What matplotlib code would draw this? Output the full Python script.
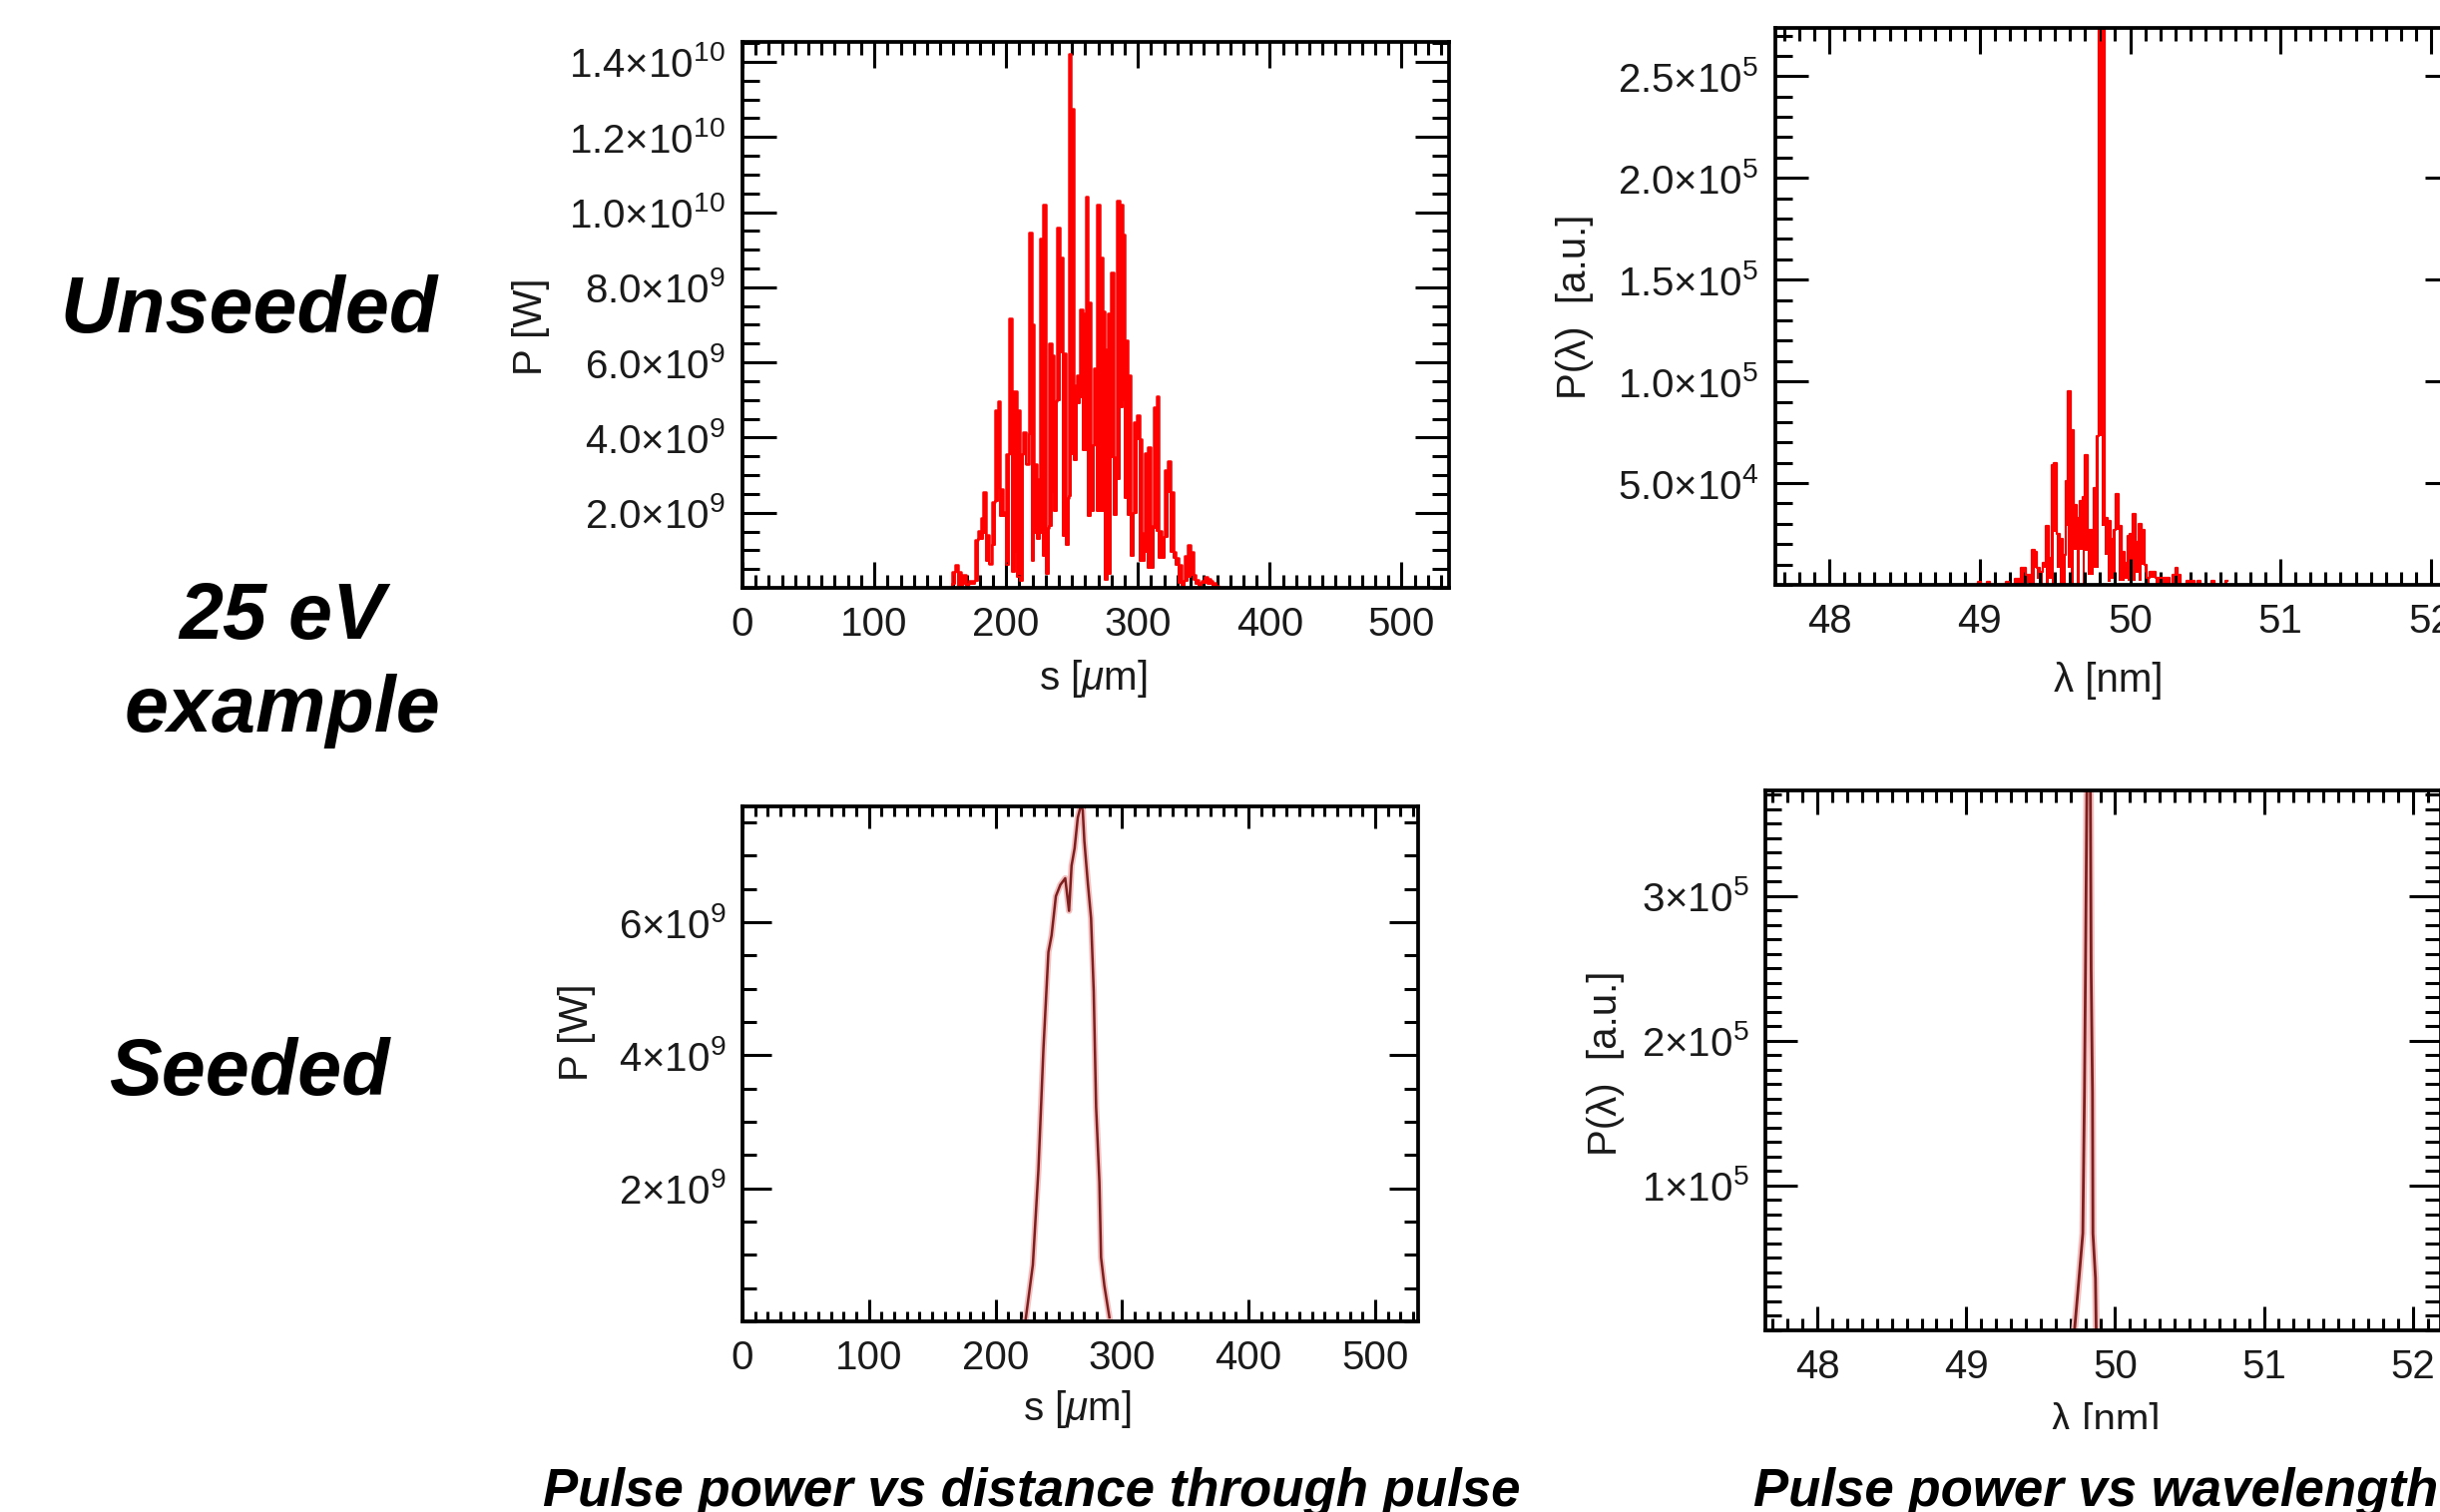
"""
FEL pulse comparison, unseeded vs seeded (25 eV example).
Four IDL-style panels: power vs s and spectrum vs wavelength.
"""
import numpy as np
import matplotlib.pyplot as plt
from matplotlib.ticker import MultipleLocator
from matplotlib.patches import Rectangle

plt.rcParams['font.family'] = ['Liberation Sans', 'DejaVu Sans']
plt.rcParams['mathtext.fontset'] = 'custom'
plt.rcParams['mathtext.rm'] = 'Liberation Sans'
plt.rcParams['mathtext.it'] = 'Liberation Sans:italic'
plt.rcParams['mathtext.bf'] = 'Liberation Sans:bold'

# --- Data ---
# unseeded power profile: bins of ds_um from s0_um, top / bottom of the spiky band, units 1e9 W
s0_um = 158.0
ds_um = 2.15
p_unseed_top = [0.0, 0.43, 0.62, 0.43, 0.28, 0.35, 0.10, 0.19, 0.19, 1.28,
                1.52, 1.87, 2.56, 1.42, 0.64, 2.28, 4.73, 4.97, 2.63, 2.02,
                3.56, 7.17, 5.24, 5.24, 4.73, 3.56, 4.15, 3.30, 9.45, 7.00,
                3.30, 2.90, 9.29, 10.20, 1.60, 6.50, 6.20, 4.97, 9.60, 8.80,
                6.25, 2.40, 14.20, 12.75, 5.40, 5.65, 7.40, 7.30, 10.40, 7.60,
                3.80, 5.85, 10.20, 8.80, 7.35, 6.35, 7.30, 8.40, 3.47, 10.30,
                10.20, 9.40, 6.60, 5.67, 2.00, 4.40, 4.60, 3.97, 1.45, 3.58,
                3.75, 1.64, 4.82, 5.10, 1.52, 1.36, 3.14, 3.37, 2.56, 0.95,
                0.79, 0.62, 0.19, 0.86, 1.14, 0.95, 0.35, 0.22, 0.12, 0.19,
                0.28, 0.24, 0.19, 0.12, 0.05, 0.0]
p_unseed_bot = [0.0, 0.10, 0.43, 0.05, 0.05, 0.10, 0.05, 0.10, 0.10, 0.19,
                1.30, 1.30, 1.47, 0.71, 0.64, 1.14, 2.30, 2.66, 1.90, 1.90,
                0.62, 3.56, 0.43, 0.95, 0.28, 0.19, 3.56, 3.30, 4.10, 0.71,
                1.47, 1.30, 1.47, 0.86, 0.36, 1.66, 2.56, 2.04, 4.99, 6.27,
                1.38, 1.14, 2.44, 3.56, 3.39, 4.91, 5.08, 3.66, 3.66, 1.90,
                2.04, 3.80, 2.04, 2.04, 2.04, 0.22, 0.38, 3.47, 1.95, 2.90,
                4.82, 4.99, 2.38, 1.95, 0.86, 2.00, 3.97, 0.71, 0.71, 0.95,
                0.52, 0.52, 1.60, 1.52, 0.79, 0.79, 1.36, 2.56, 0.95, 0.79,
                0.62, 0.14, 0.05, 0.19, 0.30, 0.35, 0.22, 0.10, 0.05, 0.12,
                0.12, 0.10, 0.10, 0.03, 0.0, 0.0]

# unseeded spectrum: bins of dlam_nm from lam0_nm, units 1e4 a.u.
lam0_nm = 48.98
dlam_nm = 0.0187
spec_unseed_top = [0, 0.14, 0, 0, 0.14, 0, 0, 0, 0, 0,
                   0, 0.14, 0, 0, 0.30, 0.30, 0.85, 0.85, 0.50, 0.50,
                   1.73, 1.60, 0.85, 0.64, 1.10, 2.88, 1.30, 5.90, 6.00, 2.50,
                   2.26, 1.47, 5.10, 9.50, 7.60, 3.94, 3.30, 4.10, 4.30, 6.36,
                   2.70, 2.70, 4.77, 7.30, 30.0, 30.0, 3.30, 3.15, 2.26, 2.70,
                   4.47, 2.88, 1.60, 1.10, 2.40, 2.50, 3.50, 2.10, 3.00, 2.70,
                   1.00, 0.35, 0.64, 0.64, 0.35, 0.35, 0.35, 0.35, 0.35, 0,
                   0.50, 0.85, 0.50, 0, 0, 0.18, 0, 0.18, 0, 0.18,
                   0, 0, 0, 0, 0.18, 0, 0, 0, 0, 0.18]
spec_unseed_bot = [0, 0, 0, 0, 0, 0, 0, 0, 0, 0,
                   0, 0, 0, 0, 0, 0, 0, 0, 0.10, 0,
                   0, 0.85, 0.30, 0, 0.85, 0, 0.30, 0, 2.60, 0.85,
                   0, 0, 2.88, 0.85, 0, 1.73, 0, 1.73, 0, 1.65,
                   0.50, 0.50, 0.85, 0.85, 7.30, 2.88, 1.47, 0.14, 0.30, 0.14,
                   2.70, 0.20, 0.20, 0.30, 0.20, 0.50, 0.20, 0.60, 0.20, 1.00,
                   0.20, 0, 0.35, 0.35, 0, 0, 0, 0, 0, 0,
                   0, 0.50, 0, 0, 0, 0, 0, 0, 0, 0,
                   0, 0, 0, 0, 0, 0, 0, 0, 0, 0]

# seeded power profile, units 1e9 W
s_seed = [223.6, 229.5, 233.9, 237.9, 241.8, 244.3, 247.7, 251.2, 255.1, 258.1,
          260.1, 262.5, 265.0, 267.4, 268.9, 270.2, 272.9, 275.5, 277.6, 279.5,
          282.1, 283.4, 286.0, 290.0]
p_seed = [0.0, 0.85, 2.28, 4.11, 5.55, 5.80, 6.39, 6.56, 6.66, 6.17,
          6.85, 7.11, 7.57, 7.75, 7.69, 7.22, 6.60, 6.06, 4.96, 3.22,
          2.09, 0.96, 0.54, 0.06]

# seeded spectrum, units 1e5 a.u.
lam_seed = [49.727, 49.749, 49.783, 49.794, 49.801, 49.810, 49.824, 49.834,
            49.839, 49.848, 49.851, 49.868, 49.873]
spec_seed = [0.0, 0.26, 0.67, 1.64, 2.49, 3.70, 4.50, 3.70,
             2.49, 1.64, 0.67, 0.36, 0.0]

s_ticks = [0, 100, 200, 300, 400, 500]
lam_ticks = [48, 49, 50, 51, 52]
p_unseed_ticks = [2e9, 4e9, 6e9, 8e9, 1.0e10, 1.2e10, 1.4e10]
p_unseed_labels = ['2.0×10$^{9}$', '4.0×10$^{9}$', '6.0×10$^{9}$', '8.0×10$^{9}$',
                   '1.0×10$^{10}$', '1.2×10$^{10}$', '1.4×10$^{10}$']
spec_unseed_ticks = [5e4, 1e5, 1.5e5, 2e5, 2.5e5]
spec_unseed_labels = ['5.0×10$^{4}$', '1.0×10$^{5}$', '1.5×10$^{5}$',
                      '2.0×10$^{5}$', '2.5×10$^{5}$']
p_seed_ticks = [2e9, 4e9, 6e9]
p_seed_labels = ['2×10$^{9}$', '4×10$^{9}$', '6×10$^{9}$']
spec_seed_ticks = [1e5, 2e5, 3e5]
spec_seed_labels = ['1×10$^{5}$', '2×10$^{5}$', '3×10$^{5}$']

# --- Figure (pixel layout of the slide) ---
W, H = 2445, 1515
fig = plt.figure(figsize=(W / 100, H / 100), dpi=100)


def box(left, top, right, bottom):
    return [left / W, 1 - bottom / H, (right - left) / W, (bottom - top) / H]


def fxy(x, y):
    return x / W, 1 - y / H


def idl_style(ax, xmaj, xmin, ymaj, ymin):
    ax.tick_params(which='both', direction='in', top=True, right=True,
                   width=2.2, color='black', labelcolor='#1a1a1a', labelsize=29)
    ax.tick_params(axis='x', which='major', length=xmaj, pad=13)
    ax.tick_params(axis='x', which='minor', length=xmin)
    ax.tick_params(axis='y', which='major', length=ymaj, pad=12)
    ax.tick_params(axis='y', which='minor', length=ymin)
    for sp in ax.spines.values():
        sp.set_linewidth(2.7)


red = '#ff0000'
dark = '#7e1f1f'
halo = '#f4c0c0'

# Unseeded power vs s
ax1 = fig.add_axes(box(744, 42, 1452, 589))
s_u = s0_um + ds_um * np.arange(len(p_unseed_top))
top = np.array(p_unseed_top) * 1e9
bot = np.array(p_unseed_bot) * 1e9
ax1.fill_between(s_u, bot, top, step='mid', color=red, lw=0)
ax1.step(s_u, top, where='mid', color=red, lw=1.8)
ax1.step(s_u, bot, where='mid', color=red, lw=1.4)
ax1.set_xlim(0, 536)
ax1.set_ylim(0, 1.453e10)
ax1.set_xticks(s_ticks)
ax1.set_yticks(p_unseed_ticks, p_unseed_labels)
ax1.xaxis.set_minor_locator(MultipleLocator(10))
ax1.yaxis.set_minor_locator(MultipleLocator(5e8))
idl_style(ax1, 19, 9.5, 24.5, 12)

# Unseeded spectrum
ax2 = fig.add_axes(box(1779, 28, 2463, 586))
lam_u = lam0_nm + dlam_nm * np.arange(len(spec_unseed_top))
top = np.array(spec_unseed_top) * 1e4
bot = np.array(spec_unseed_bot) * 1e4
ax2.fill_between(lam_u, bot, top, step='mid', color=red, lw=0)
ax2.step(lam_u, top, where='mid', color=red, lw=1.6)
ax2.set_xlim(47.64, 52.18)
ax2.set_ylim(0, 2.737e5)
ax2.set_xticks(lam_ticks)
ax2.set_yticks(spec_unseed_ticks, spec_unseed_labels)
ax2.xaxis.set_minor_locator(MultipleLocator(0.1))
ax2.yaxis.set_minor_locator(MultipleLocator(1e4))
idl_style(ax2, 19, 9.5, 24, 12)

# Seeded power vs s
ax3 = fig.add_axes(box(744, 808, 1421, 1324))
ax3.plot(s_seed, np.array(p_seed) * 1e9, color=halo, lw=4.5)
ax3.plot(s_seed, np.array(p_seed) * 1e9, color=dark, lw=1.8)
ax3.set_xlim(0, 534)
ax3.set_ylim(0, 7.74e9)
ax3.set_xticks(s_ticks)
ax3.set_yticks(p_seed_ticks, p_seed_labels)
ax3.xaxis.set_minor_locator(MultipleLocator(10))
ax3.yaxis.set_minor_locator(MultipleLocator(5e8))
idl_style(ax3, 16, 7.5, 21, 10)

# Seeded spectrum
ax4 = fig.add_axes(box(1769, 792, 2446, 1333))
ax4.plot(lam_seed, np.array(spec_seed) * 1e5, color=halo, lw=5)
ax4.plot(lam_seed, np.array(spec_seed) * 1e5, color=dark, lw=2.0)
ax4.set_xlim(47.65, 52.19)
ax4.set_ylim(0, 3.73e5)
ax4.set_xticks(lam_ticks)
ax4.set_yticks(spec_seed_ticks, spec_seed_labels)
ax4.xaxis.set_minor_locator(MultipleLocator(0.1))
ax4.yaxis.set_minor_locator(MultipleLocator(1e4))
idl_style(ax4, 17, 8.5, 23, 11.5)

# axis titles
lab = dict(fontsize=29, color='#1a1a1a', ha='center', va='center')
fig.text(*fxy(532, 327), 'P [W]', rotation=90, **lab)
fig.text(*fxy(1095, 680), 's [$\\mu$m]', **lab)
fig.text(*fxy(1578, 307), 'P(λ)  [a.u.]', rotation=90, **lab)
fig.text(*fxy(2113, 682), 'λ [nm]', **lab)
fig.text(*fxy(578, 1034), 'P [W]', rotation=90, **lab)
fig.text(*fxy(1079, 1412), 's [$\\mu$m]', **lab)
fig.text(*fxy(1609, 1065), 'P(λ)  [a.u.]', rotation=90, **lab)
fig.text(*fxy(2110, 1424), 'λ [nm]', **lab)
# the slide crops the lower part of this last label
fig.add_artist(Rectangle(fxy(1980, 1458), 300 / W, 26 / H,
                         transform=fig.transFigure, facecolor='white',
                         edgecolor='none', zorder=10))

# slide annotations
big = dict(fontsize=57, fontweight='bold', fontstyle='italic',
           ha='center', va='center', color='black')
fig.text(*fxy(250, 312), 'Unseeded', **big)
fig.text(*fxy(283, 666), '25 eV\nexample', linespacing=1.3, **big)
fig.text(*fxy(250, 1076), 'Seeded', **big)

cap = dict(fontsize=38, fontweight='bold', fontstyle='italic',
           va='baseline', color='black', zorder=11)
fig.text(*fxy(1034, 1509), 'Pulse power vs distance through pulse', ha='center', **cap)
fig.text(*fxy(1757, 1509), 'Pulse power vs wavelength', ha='left', **cap)

fig.savefig('out.png', dpi=100)
plt.close(fig)
